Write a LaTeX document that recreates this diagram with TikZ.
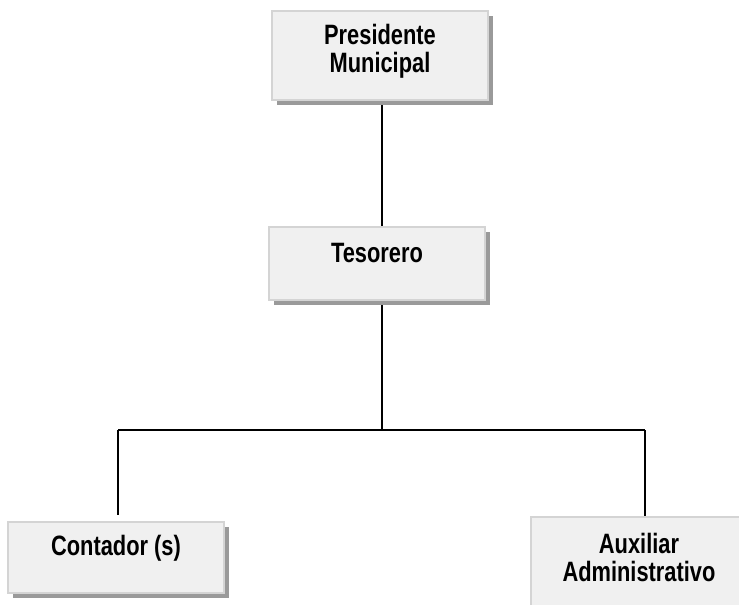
\documentclass[tikz,border=0pt]{standalone}
\usepackage{fontspec}
\newfontfamily\cajafont{Liberation Sans}[FakeStretch=0.78]
\usepackage{tikz}
\usetikzlibrary{shadows}

\definecolor{relleno}{HTML}{F0F0F0}
\definecolor{borde}{HTML}{D4D4D4}
\definecolor{sombra}{HTML}{9A9A9A}

\pgfdeclarelayer{background}
\pgfsetlayers{background,main}

\tikzset{
    caja/.style={rectangle, draw=borde, line width=2pt, fill=relleno,
        drop shadow={shadow xshift=5pt, shadow yshift=-5pt, fill=sombra, opacity=1}},
    rotulo/.style={font=\cajafont\bfseries\fontsize{28}{28}\selectfont, align=center, inner sep=0pt},
    linea/.style={black, line width=2.2pt}
}

\begin{document}
\begin{tikzpicture}[x=1pt,y=-1pt]
            \clip (0,0) rectangle (739,605);
            % cajas
            \node[caja, minimum width=216pt, minimum height=89pt] (pres) at (380,55.5) {};
            \node[caja, minimum width=216pt, minimum height=73pt] (teso) at (377,263.5) {};
            \node[caja, minimum width=216pt, minimum height=71pt] (cont) at (116,557.5) {};
            \node[caja, minimum width=232pt, minimum height=94pt] (aux) at (647,564) {};
            % textos
            \node[rotulo] (tpres) at ([yshift=4pt]pres.center) {Presidente\\Municipal};
            \node[rotulo, anchor=base] (tteso) at ([yshift=1.5pt]teso.center) {Tesorero};
            \node[rotulo, anchor=base] (tcont) at ([yshift=2.5pt]cont.center) {Contador (s)};
            \node[rotulo] (taux) at (639,557.5) {Auxiliar\\Administrativo};
            % lineas
            \coordinate (junta) at (382,430);
            \coordinate (izq) at (118,430);
            \coordinate (der) at (645,430);
            \begin{pgfonlayer}{background}
            \draw[linea] (junta |- pres.south) -- (junta |- teso.north);
            \draw[linea] (junta |- teso.south) -- (junta);
            \draw[linea] (izq) -- (der);
            \draw[linea] (izq) -- ([yshift=6pt]izq |- cont.north);
            \draw[linea] (der) -- (der |- aux.north);
            \end{pgfonlayer}
        \end{tikzpicture}
\end{document}
